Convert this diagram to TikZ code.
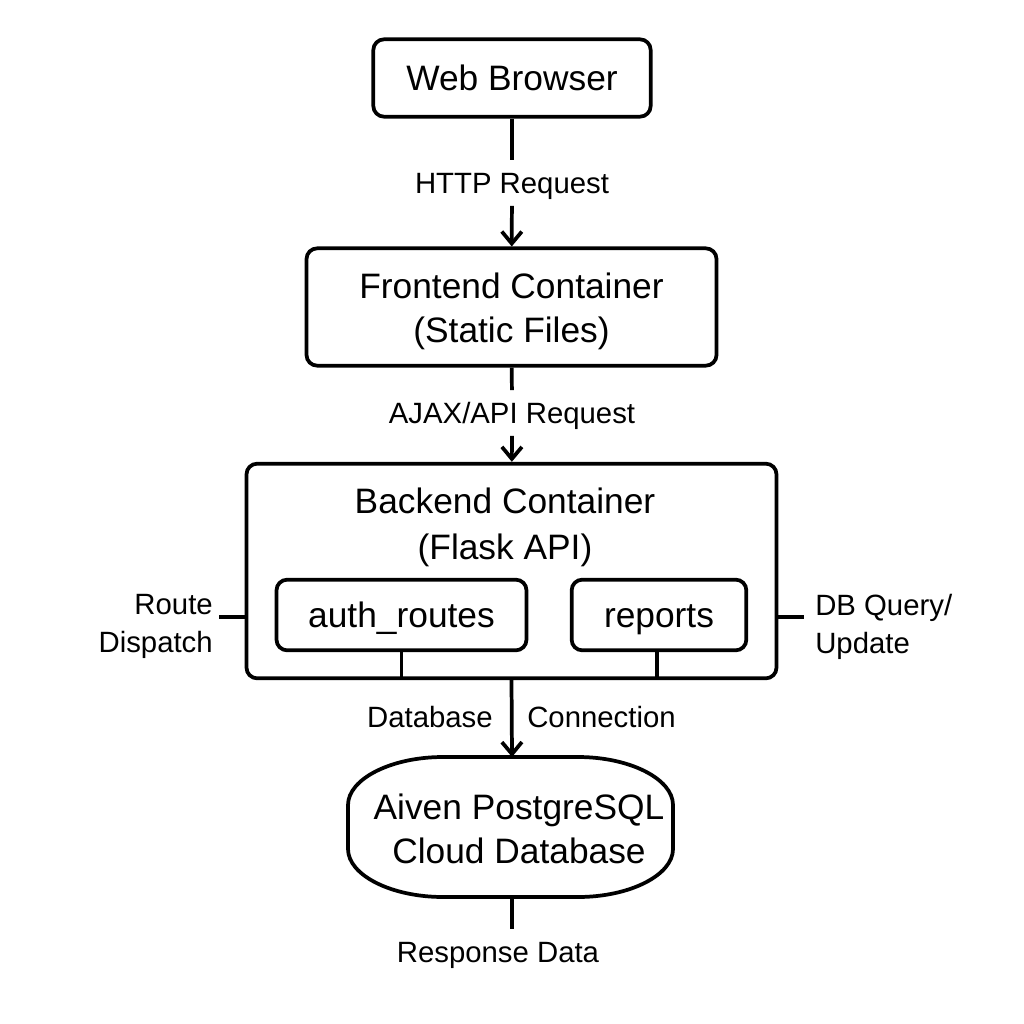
\documentclass[tikz,border=0pt]{standalone}
\usepackage{fontspec}
\setmainfont{Liberation Sans}
\usetikzlibrary{arrows.meta,positioning}

\tikzset{
  blk/.style={draw, line width=2.8pt, rounded corners=8pt, inner sep=0pt, align=center,
    font=\fontsize{26.5}{33}\selectfont},
  sub/.style={blk, minimum height=53pt, text height=19pt, text depth=0pt},
  lbl/.style={inner sep=0pt, font=\fontsize{22}{28.5}\selectfont},
  gap/.style={lbl, text height=15.8pt, text depth=0pt, inner ysep=9pt},
  wire/.style={line width=2.8pt},
  arr/.style={wire, -{Straight Barb[length=9pt,width=15pt]}},
}

\begin{document}
\begin{tikzpicture}[x=0.75pt,y=0.75pt,yscale=-1,xscale=1]
\useasboundingbox (0,0) rectangle (1024,1024);

%Shape: Rectangle [browser]
\node [blk, minimum width=208pt, minimum height=58pt] (browser) at (512,78) {Web Browser};
%Shape: Rectangle [frontend]
\node [blk, minimum width=307.5pt, minimum height=88pt] (frontend) at (511.5,307) {};
\node [blk, draw=none] (fronttxt) at (511.5,311) {Frontend Container\\(Static Files)};
%Shape: Rectangle [backend]
\node [blk, minimum width=397.5pt, minimum height=161pt] (backend) at (511.5,571) {};
\node [blk, draw=none, font=\fontsize{26.5}{34.5}\selectfont] (backtxt) at (505,527) {Backend Container\\(Flask API)};
%Shape: Rectangle [auth, reports]
\node [sub, minimum width=187.5pt] (auth) at (401.5,615) {auth\_routes};
\node [sub, minimum width=131pt] (reports) at (659,615) {reports};
%Shape: Rounded Rectangle [db]
\node [blk, draw=none, minimum width=241.5pt, minimum height=103pt] (db) at (519,829) {Aiven PostgreSQL\\Cloud Database};
\draw [wire] (443,757) -- (578,757) .. controls (630,757) and (673,779) .. (673,805)
  -- (673,849) .. controls (673,875) and (630,897) .. (578,897)
  -- (443,897) .. controls (391,897) and (348,875) .. (348,849)
  -- (348,805) .. controls (348,779) and (391,757) .. (443,757) -- cycle;

% Text Node
\node [gap] (http) at (512,183) {HTTP Request};
% Text Node
\node [gap] (ajax) at (512,413) {AJAX/API Request};
% Text Node
\node [lbl, anchor=east] (dbase) at (493,717) {Database};
% Text Node
\node [lbl, anchor=west] (conn) at (527,717) {Connection};
% Text Node
\node [lbl, align=right, anchor=east] (route) at (213,626) {Route\\Dispatch};
% Text Node
\node [lbl, align=left, anchor=west] (query) at (815,627) {DB Query/\\Update};
% Text Node
\node [gap] (resp) at (498,952) {Response Data};

\coordinate (rt) at (219,617);
\coordinate (qt) at (804,617);
\coordinate (rs) at (657,652);
\coordinate (dbtop) at (512,757);
\coordinate (dbbot) at (512,897);

%Straight Lines
\draw [wire] (browser) -- (http);
\draw [arr] (http) -- (frontend);
\draw [wire] (frontend) -- (ajax);
\draw [arr] (ajax) -- (backend);
\draw [arr] (backend.south) -- (dbtop);
\draw [wire] (auth.south) -- (auth.south |- backend.south);
\draw [wire] (rs) -- (rs |- backend.south);
\draw [wire] (backend.west |- rt) -- (rt);
\draw [wire] (backend.east |- qt) -- (qt);
\draw [wire] (dbbot) -- (dbbot |- resp.north);

\end{tikzpicture}
\end{document}
